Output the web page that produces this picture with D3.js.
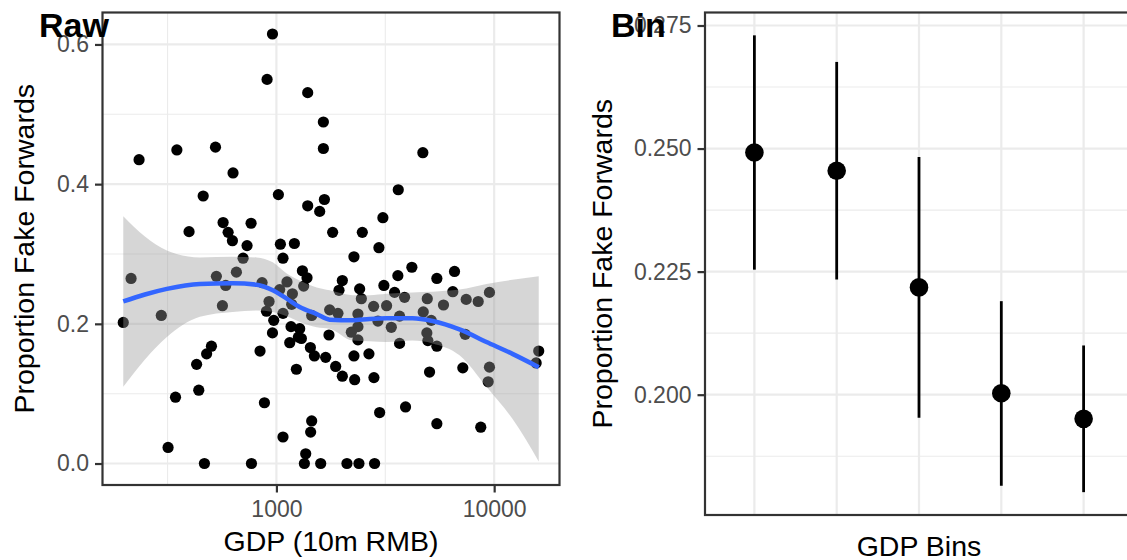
<!DOCTYPE html>
<html>
<head>
<meta charset="utf-8">
<script src="https://cdn.jsdelivr.net/npm/d3@7"></script>
<style>
  body { margin: 0; background: #fff; }
  svg text { font-family: "Liberation Sans", Arial, Helvetica, sans-serif; }
</style>
</head>
<body>
<svg id="chart" width="1127" height="560"></svg>
<script>
// ---- raw panel: one dot per city (GDP in 10m RMB, share of fake forwards)
const gdp = [959, 906, 1392, 1643, 1643, 234, 349, 525, 632, 461,
  1021, 1392, 1661, 1580, 397, 569, 600, 628, 765, 733,
  1043, 1209, 703, 1072, 1812, 4704, 3627, 3083, 2480, 2956,
  2270, 215, 530, 655, 585, 565, 296, 198, 859, 925,
  900, 972, 959, 1035, 1118, 1184, 1175, 1072, 1316, 1382,
  1334, 1452, 1756, 1167, 1279, 1261, 1151, 1302, 1432, 1494,
  1683, 1743, 1235, 841, 503, 478, 430, 440, 344, 881,
  1452, 1436, 1072, 318, 1363, 1344, 1597, 467, 768, 3612,
  4188, 5455, 6576, 6458, 7439, 8446, 9515, 5852, 4929, 4724,
  5140, 3877, 3489, 3116, 3206, 3678, 3370, 3678, 2008, 1938,
  2411, 2455, 2795, 2925, 2368, 2368, 2208, 2368, 1917, 1871,
  2008, 2287, 2270, 2660, 2804, 4908, 4960, 5455, 5050, 7178,
  7362, 9515, 9386, 16020, 15590, 2978, 3918, 5455, 8680, 2108,
  2393, 2824];
const propFake = [0.615, 0.550, 0.531, 0.489, 0.451, 0.435, 0.449, 0.453, 0.416, 0.383,
  0.385, 0.369, 0.378, 0.361, 0.332, 0.345, 0.331, 0.319, 0.344, 0.312,
  0.314, 0.315, 0.294, 0.294, 0.331, 0.445, 0.392, 0.352, 0.331, 0.309,
  0.296, 0.265, 0.268, 0.274, 0.255, 0.226, 0.212, 0.202, 0.259, 0.232,
  0.218, 0.205, 0.187, 0.249, 0.260, 0.243, 0.228, 0.215, 0.276, 0.266,
  0.254, 0.212, 0.220, 0.196, 0.193, 0.181, 0.173, 0.179, 0.166, 0.154,
  0.152, 0.184, 0.135, 0.161, 0.168, 0.157, 0.142, 0.105, 0.095, 0.087,
  0.061, 0.045, 0.038, 0.023, 0.014, 0, 0, 0, 0, 0.269,
  0.281, 0.265, 0.275, 0.246, 0.235, 0.232, 0.245, 0.227, 0.236, 0.217,
  0.205, 0.238, 0.245, 0.255, 0.226, 0.211, 0.195, 0.172, 0.262, 0.248,
  0.250, 0.236, 0.225, 0.204, 0.214, 0.196, 0.188, 0.177, 0.215, 0.139,
  0.125, 0.120, 0.154, 0.157, 0.123, 0.187, 0.176, 0.168, 0.131, 0.137,
  0.185, 0.138, 0.117, 0.161, 0.144, 0.073, 0.081, 0.057, 0.052, 0,
  0, 0];

// smoother + its ribbon
const smoothGdp = [198, 249, 314, 445, 630, 812, 962, 1115, 1279, 1531,
  1756, 2239, 2679, 3206, 4219, 5212, 6931, 9220, 12130, 16020];
const smoothFit = [0.232, 0.242, 0.250, 0.257, 0.258, 0.256, 0.248, 0.236, 0.224, 0.214,
  0.206, 0.205, 0.207, 0.208, 0.208, 0.204, 0.192, 0.174, 0.157, 0.138];
const smoothLow = [0.110, 0.149, 0.181, 0.210, 0.217, 0.219, 0.217, 0.211, 0.203, 0.195,
  0.193, 0.176, 0.175, 0.174, 0.176, 0.172, 0.155, 0.110, 0.064, 0.003];
const smoothHigh = [0.354, 0.325, 0.305, 0.295, 0.296, 0.295, 0.288, 0.272, 0.262, 0.252,
  0.248, 0.241, 0.241, 0.243, 0.245, 0.246, 0.249, 0.257, 0.263, 0.268];

// ---- bin panel
const bins = ["Q1", "Q2", "Q3", "Q4", "Q5"];
const binMean = [0.2492, 0.2455, 0.2218, 0.2003, 0.1951];
const binLow = [0.2254, 0.2234, 0.1953, 0.1815, 0.1802];
const binHigh = [0.2730, 0.2676, 0.2483, 0.2190, 0.2100];

// ticks
const rawTicks = [0, 0.2, 0.4, 0.6];
const rawMinor = [0.1, 0.3, 0.5];
const gdpTicks = [1000, 10000];
const gdpMinor = [316.23, 3162.3];
const binTicks = [0.200, 0.225, 0.250, 0.275];
const binMinor = [0.1875, 0.2125, 0.2375, 0.2625];

const svg = d3.select("#chart");
const tickCol = "#4D4D4D";
const gridCol = "#EBEBEB";

function expand(ext, f) {
  const pad = (ext[1] - ext[0]) * f;
  return [ext[0] - pad, ext[1] + pad];
}

function styleAxis(g) {
  g.select(".domain").remove();
  g.selectAll(".tick line").attr("stroke", "#333333").attr("stroke-width", 2.2);
  g.selectAll(".tick text").attr("fill", tickCol).attr("font-size", 23);
}

//-------------raw panel------------------------
const p1 = {left: 102.5, top: 12.5, right: 559.5, bottom: 485};

const logDom = expand(d3.extent(gdp).map(Math.log10), 0.05);
const xScale = d3.scaleLog()
                 .domain([Math.pow(10, logDom[0]), Math.pow(10, logDom[1])])
                 .range([p1.left, p1.right]);
const yScale = d3.scaleLinear()
                 .domain(expand(d3.extent(propFake), 0.05))
                 .range([p1.bottom, p1.top]);

const raw = svg.append("g").attr("id", "raw");

// grid
raw.selectAll(".hminor").data(rawMinor).enter().append("line")
   .attr("x1", p1.left).attr("x2", p1.right)
   .attr("y1", d => yScale(d)).attr("y2", d => yScale(d))
   .attr("stroke", gridCol).attr("stroke-width", 1.1);
raw.selectAll(".vminor").data(gdpMinor).enter().append("line")
   .attr("y1", p1.top).attr("y2", p1.bottom)
   .attr("x1", d => xScale(d)).attr("x2", d => xScale(d))
   .attr("stroke", gridCol).attr("stroke-width", 1.1);
raw.selectAll(".hmajor").data(rawTicks).enter().append("line")
   .attr("x1", p1.left).attr("x2", p1.right)
   .attr("y1", d => yScale(d)).attr("y2", d => yScale(d))
   .attr("stroke", gridCol).attr("stroke-width", 2.2);
raw.selectAll(".vmajor").data(gdpTicks).enter().append("line")
   .attr("y1", p1.top).attr("y2", p1.bottom)
   .attr("x1", d => xScale(d)).attr("x2", d => xScale(d))
   .attr("stroke", gridCol).attr("stroke-width", 2.2);

// dots
raw.selectAll("circle")
   .data(gdp.map((g, i) => ({g: g, p: propFake[i]})))
   .enter()
   .append("circle")
   .attr("cx", d => xScale(d.g))
   .attr("cy", d => yScale(d.p))
   .attr("r", 5.6)
   .attr("fill", "#000");

// ribbon + smooth line
const smooth = smoothGdp.map((g, i) => ({g: g, fit: smoothFit[i], lo: smoothLow[i], hi: smoothHigh[i]}));
const band = d3.area()
               .x(d => xScale(d.g))
               .y0(d => yScale(d.lo))
               .y1(d => yScale(d.hi))
               .curve(d3.curveMonotoneX);
const fitLine = d3.line()
                  .x(d => xScale(d.g))
                  .y(d => yScale(d.fit))
                  .curve(d3.curveMonotoneX);
raw.append("path").datum(smooth)
   .attr("d", band)
   .attr("fill", "#999999")
   .attr("fill-opacity", 0.4);
raw.append("path").datum(smooth)
   .attr("d", fitLine)
   .attr("fill", "none")
   .attr("stroke", "#3366FF")
   .attr("stroke-width", 4.5);

raw.append("rect")
   .attr("x", p1.left).attr("y", p1.top)
   .attr("width", p1.right - p1.left).attr("height", p1.bottom - p1.top)
   .attr("fill", "none").attr("stroke", "#333333").attr("stroke-width", 2.2);

raw.append("g")
   .attr("transform", "translate(" + p1.left + ",0)")
   .call(d3.axisLeft(yScale).tickValues(rawTicks).tickFormat(d3.format(".1f")).tickSize(7.5).tickPadding(6))
   .call(styleAxis);
raw.append("g")
   .attr("transform", "translate(0," + p1.bottom + ")")
   .call(d3.axisBottom(xScale).tickValues(gdpTicks).tickFormat(d3.format("d")).tickSize(7.5).tickPadding(8.5))
   .call(styleAxis);

raw.append("text")
   .attr("x", (p1.left + p1.right) / 2).attr("y", 551)
   .attr("text-anchor", "middle").attr("font-size", 28.5)
   .text("GDP (10m RMB)");
raw.append("text")
   .attr("transform", "translate(33.5," + (p1.top + p1.bottom) / 2 + ") rotate(-90)")
   .attr("text-anchor", "middle").attr("font-size", 28.5)
   .text("Proportion Fake Forwards");

//-------------bin panel------------------------
const p2 = {left: 705, top: 12.5, right: 1133, bottom: 515};

const xBin = d3.scalePoint().domain(bins).range([p2.left, p2.right]).padding(0.6);
const yBin = d3.scaleLinear()
               .domain(expand([d3.min(binLow), d3.max(binHigh)], 0.05))
               .range([p2.bottom, p2.top]);

const bin = svg.append("g").attr("id", "bin");

bin.selectAll(".hminor").data(binMinor).enter().append("line")
   .attr("x1", p2.left).attr("x2", p2.right)
   .attr("y1", d => yBin(d)).attr("y2", d => yBin(d))
   .attr("stroke", gridCol).attr("stroke-width", 1.1);
bin.selectAll(".hmajor").data(binTicks).enter().append("line")
   .attr("x1", p2.left).attr("x2", p2.right)
   .attr("y1", d => yBin(d)).attr("y2", d => yBin(d))
   .attr("stroke", gridCol).attr("stroke-width", 2.2);
bin.selectAll(".vmajor").data(bins).enter().append("line")
   .attr("y1", p2.top).attr("y2", p2.bottom)
   .attr("x1", d => xBin(d)).attr("x2", d => xBin(d))
   .attr("stroke", gridCol).attr("stroke-width", 2.2);

const binData = bins.map((b, i) => ({b: b, m: binMean[i], lo: binLow[i], hi: binHigh[i]}));
bin.selectAll(".err").data(binData).enter().append("line")
   .attr("x1", d => xBin(d.b)).attr("x2", d => xBin(d.b))
   .attr("y1", d => yBin(d.lo)).attr("y2", d => yBin(d.hi))
   .attr("stroke", "#000").attr("stroke-width", 2.8);
bin.selectAll("circle").data(binData).enter().append("circle")
   .attr("cx", d => xBin(d.b))
   .attr("cy", d => yBin(d.m))
   .attr("r", 9.3)
   .attr("fill", "#000");

bin.append("rect")
   .attr("x", p2.left).attr("y", p2.top)
   .attr("width", p2.right - p2.left).attr("height", p2.bottom - p2.top)
   .attr("fill", "none").attr("stroke", "#333333").attr("stroke-width", 2.2);

bin.append("g")
   .attr("transform", "translate(" + p2.left + ",0)")
   .call(d3.axisLeft(yBin).tickValues(binTicks).tickFormat(d3.format(".3f")).tickSize(7.5).tickPadding(6))
   .call(styleAxis);

bin.append("text")
   .attr("x", (p2.left + p2.right) / 2).attr("y", 555.5)
   .attr("text-anchor", "middle").attr("font-size", 28.5)
   .text("GDP Bins");
bin.append("text")
   .attr("transform", "translate(611.5," + (p2.top + p2.bottom) / 2 + ") rotate(-90)")
   .attr("text-anchor", "middle").attr("font-size", 28.5)
   .text("Proportion Fake Forwards");

//-------------panel labels------------------------
svg.append("text").attr("x", 39).attr("y", 36.5)
   .attr("font-size", 34).attr("font-weight", "bold").text("Raw");
svg.append("text").attr("x", 611).attr("y", 36.5)
   .attr("font-size", 34).attr("font-weight", "bold").text("Bin");
</script>
</body>
</html>
